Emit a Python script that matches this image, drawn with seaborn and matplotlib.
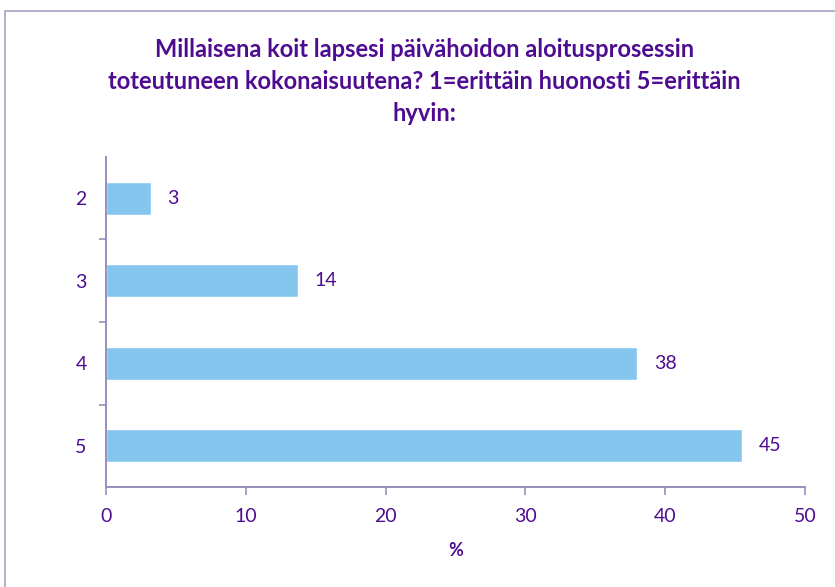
import matplotlib
matplotlib.use("Agg")
import matplotlib.pyplot as plt
from matplotlib.patches import Rectangle
from matplotlib.ticker import FixedLocator
import pandas as pd
import seaborn as sns

# data
categories = ["2", "3", "4", "5"]
percent = [3.2, 13.7, 38.0, 45.5]
value_labels = ["3", "14", "38", "45"]
x_ticks = [0, 10, 20, 30, 40, 50]

title = ("Millaisena koit lapsesi päivähoidon aloitusprosessin\n"
         "toteutuneen kokonaisuutena? 1=erittäin huonosti 5=erittäin\n"
         "hyvin:")

purple = "#4E0D91"
axis_col = "#9A8DBE"
bar_col = "#85C6EE"

sns.set_theme(style="white")
plt.rcParams["font.family"] = ["Lato", "DejaVu Sans"]

df = pd.DataFrame({"cat": categories, "pct": percent})

fig = plt.figure(figsize=(8.35, 5.87), dpi=100)
ax = fig.add_axes([0.127, 0.170, 0.837, 0.563])

sns.barplot(data=df, x="pct", y="cat", orient="h", color=bar_col,
            width=0.4, saturation=1, ax=ax)

ax.set_xlim(0, 50)
ax.set_ylim(3.5, -0.5)
ax.set_xticks(x_ticks)
ax.yaxis.set_minor_locator(FixedLocator([0.5, 1.5, 2.5]))

for i, (v, lab) in enumerate(zip(percent, value_labels)):
    ax.annotate(lab, (v, i), xytext=(12, 0), textcoords="offset points",
                va="center", ha="left", color=purple, fontsize=14)

ax.set_xlabel("%", color=purple, fontsize=13, fontweight="bold", labelpad=12)
ax.set_ylabel("")
ax.tick_params(axis="x", colors=axis_col, labelcolor=purple, labelsize=14,
               direction="out", length=6, width=1.2, bottom=True, pad=9)
ax.tick_params(axis="y", which="major", length=0, labelcolor=purple,
               labelsize=14, pad=14)
ax.tick_params(axis="y", which="minor", colors=axis_col, direction="out",
               length=5, width=1.2, left=True)

for side in ["top", "right"]:
    ax.spines[side].set_visible(False)
for side in ["left", "bottom"]:
    ax.spines[side].set_color(axis_col)
    ax.spines[side].set_linewidth(1.4)

fig.text(0.508, 0.935, title, ha="center", va="top", color=purple,
         fontsize=17, fontweight="bold", linespacing=1.47)

# chart frame
fig.patches.append(Rectangle((5 / 835, -0.01), 1.0, 1 - 11 / 587 + 0.01,
                             transform=fig.transFigure, fill=False,
                             edgecolor="#A89FC4", linewidth=1.2))

fig.savefig("out.png", dpi=100)
